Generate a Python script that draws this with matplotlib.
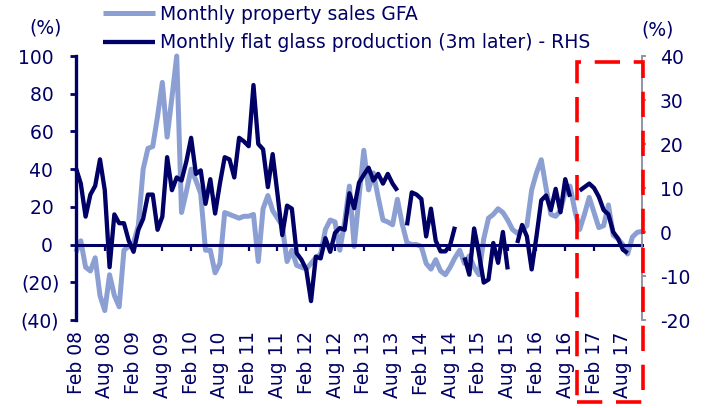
import numpy as np
import pandas as pd
import matplotlib
matplotlib.use("Agg")
import matplotlib.pyplot as plt
from matplotlib.patches import Rectangle
import matplotlib.transforms as mtransforms

plt.rcParams['font.family'] = ['DejaVu Sans']
plt.rcParams['axes.unicode_minus'] = False

# Monthly categories Feb 08 .. Dec 17
months = pd.date_range('2008-02-01', '2017-12-01', freq='MS').strftime('%b %y').tolist()

# Monthly property sales GFA, YoY % (LHS)
property_sales_gfa = [
    -4, 2, -12, -14, -7, -27, -35, -16, -27, -33,
    -3, -1, 1, 10, 40, 51, 52, 68, 86, 57,
    78, 100, 17, 28, 40, 34, 27, -3, -3, -15,
    -10, 17, 16, 15, 14, 15, 15, 16, -9, 19,
    26, 18, 14, 10, -9, -3, -11, -12, -13, -10,
    -7, -5, 8, 13, 12, -3, 12, 31, -1, 25,
    50, 29, 38, 25, 13, 12, 10.5, 24, 11, 1,
    0, 0, -1, -10, -13, -8, -14, -16, -12, -7,
    -3, -10, -6, -12, -16, 3, 14, 16, 19, 17,
    13, 8, 6, 8, 10, 29, 38, 45, 30, 16,
    15, 18, 28, 31, 18, 8, 16, 25, 17, 9,
    10, 21, 5, 3, 0, -5, 4, 6.5, 7,
]

# Monthly flat glass production (3m later), YoY % (RHS)
nan = np.nan
flat_glass_production = [
    14.5, 11, 3.5, 8.5, 10.5, 16.5, 9.5, -8, 4, 2,
    2, -2, -4.5, 0.5, 3, 8.5, 8.5, 0.5, 3.5, 17,
    9.5, 12.4, 11.7, 16, 21.4, 13.2, 14, 6.4, 12, 4.2,
    11, 17, 16.5, 12.4, 21.4, 20.6, 19.5, 33.4, 20, 18.8,
    10.2, 17.7, 8.7, -0.7, 6, 5.3, -4.8, -6.3, -8.5, -15.7,
    -5.6, -6, -1.4, -4.5, -0.2, 0.9, 0.5, 8.8, 5.4, 11.2,
    13, 14.6, 11.7, 13.2, 11, 13.2, 11, 9.4, nan, 1.5,
    9, 8.5, 7.5, -1, 5.3, -2, -4.4, -4.4, -3, 1.2,
    nan, -5.8, -9.7, 0.8, -4.8, -11.5, -10.8, -2.5, -7, 0,
    -8.5, nan, -2.5, 1.6, -1, -8.5, -1, 7.2, 8.3, 5,
    9.8, 4.5, 12, 8, nan, 9.4, 10.2, 11, 10, 8,
    5, 4, 0, -1.5, -4, -4.8, nan, nan, nan,
]

tick_labels = ["Feb 08", "Aug 08", "Feb 09", "Aug 09", "Feb 10", "Aug 10",
               "Feb 11", "Aug 11", "Feb 12", "Aug 12", "Feb 13", "Aug 13",
               "Feb 14", "Aug 14", "Feb 15", "Aug 15", "Feb 16", "Aug 16",
               "Feb 17", "Aug 17"]
tick_positions = [months.index(lbl) for lbl in tick_labels]

left_ticks = [-40, -20, 0, 20, 40, 60, 80, 100]
left_tick_labels = ["(40)", "(20)", "0 ", "20 ", "40 ", "60 ", "80 ", "100 "]
right_ticks = [-20, -10, 0, 10, 20, 30, 40]
right_tick_labels = ["-20", "-10", "0", "10", "20", "30", "40"]

series_names = ["Monthly property sales GFA",
                "Monthly flat glass production (3m later) - RHS"]
highlight_start = months.index("Oct 16") + 0.4

NAVY = '#000066'
LIGHT = '#8B9FD3'
GREY = '#8A8AA2'
FS = 13.5

x = np.arange(len(months))

fig = plt.figure(figsize=(7.07, 4.08), dpi=100)
ax = fig.add_axes([76 / 707, 88 / 408, (642 - 76) / 707, 264 / 408])

l1, = ax.plot(x, property_sales_gfa, color=LIGHT, lw=3.6,
              solid_capstyle='butt', solid_joinstyle='round', clip_on=False, zorder=2)
ax.set_xlim(0, len(months) - 1)
ax.set_ylim(-40, 100)

ax2 = ax.twinx()
l2, = ax2.plot(x, flat_glass_production, color=NAVY, lw=3.1,
               solid_capstyle='butt', solid_joinstyle='round', clip_on=False, zorder=3)
ax2.set_ylim(-20, 40)

for s in ['top', 'right']:
    ax.spines[s].set_visible(False)
ax.spines['bottom'].set_position(('data', 0))
ax.spines['bottom'].set_color(NAVY)
ax.spines['bottom'].set_linewidth(2.2)
ax.spines['left'].set_color(NAVY)
ax.spines['left'].set_linewidth(2.4)

for s in ['top', 'left', 'bottom']:
    ax2.spines[s].set_visible(False)
ax2.spines['right'].set_color(GREY)
ax2.spines['right'].set_linewidth(1.3)

ax.set_xticks(tick_positions)
ax.set_xticklabels(tick_labels, rotation=90)
ax.tick_params(axis='x', direction='out', length=4, width=1.6, color=NAVY,
               labelcolor=NAVY, labelsize=FS, pad=58.5)

ax.set_yticks(left_ticks)
ax.set_yticklabels(left_tick_labels)
ax.tick_params(axis='y', direction='out', length=4, width=2, color=NAVY,
               labelcolor=NAVY, labelsize=FS, pad=8)

ax2.set_yticks(right_ticks)
ax2.set_yticklabels(right_tick_labels)
ax2.tick_params(axis='y', direction='out', length=3, width=1.3, color=GREY,
                labelcolor=NAVY, labelsize=FS, pad=10)

fig.text(45.5 / 707, 1 - 28 / 408, "(%)", color=NAVY, fontsize=FS,
         ha='center', va='center')
fig.text(657.5 / 707, 1 - 30 / 408, "(%)", color=NAVY, fontsize=FS,
         ha='center', va='center')

leg = fig.legend(handles=[l1, l2], labels=series_names, loc='upper left',
                 bbox_to_anchor=(103 / 707, 1 - 5 / 408), bbox_transform=fig.transFigure,
                 frameon=False, fontsize=FS, handlelength=2.75, handletextpad=0.3,
                 labelspacing=0.5, borderpad=0, borderaxespad=0, labelcolor=NAVY)

trans = mtransforms.blended_transform_factory(ax.transData, ax.transAxes)
rect = Rectangle((highlight_start, -0.31), (len(months) - 1 + 0.3) - highlight_start, 0.977 + 0.31,
                 fill=False, edgecolor='#FF0000', lw=2.6, linestyle=(0, (7, 3.8)),
                 transform=trans, clip_on=False, zorder=10)
ax2.add_patch(rect)

fig.savefig("out.png", dpi=100)
